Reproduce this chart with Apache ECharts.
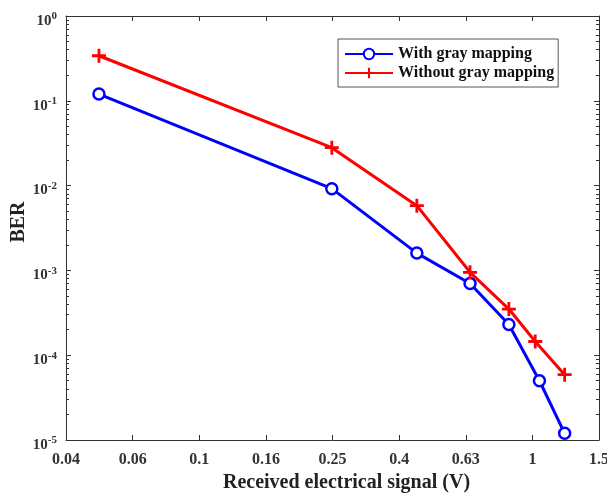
<!DOCTYPE html>
<html>
<head>
<meta charset="utf-8">
<script src="https://cdn.jsdelivr.net/npm/echarts@6/dist/echarts.min.js"></script>
<style>
  html, body { margin: 0; padding: 0; background: #fff; }
  #chart { width: 607px; height: 494px; }
</style>
</head>
<body>
<div id="chart"></div>
<script>
// received signal (V)
const signalWith = [0.05, 0.25, 0.45, 0.65, 0.85, 1.05, 1.25];
const berWith = [0.12, 0.0092, 0.0016, 7.0e-4, 2.3e-4, 5.0e-5, 1.2e-5];

const signalWithout = [0.05, 0.25, 0.45, 0.65, 0.85, 1.02, 1.25];
const berWithout = [0.34, 0.028, 0.0058, 9.5e-4, 3.5e-4, 1.45e-4, 5.9e-5];

const xTickLabels = ['0.04', '0.06', '0.1', '0.16', '0.25', '0.4', '0.63', '1', '1.5'];

const font = 'Liberation Serif';
const axisColor = '#333';

function toPairs(xs, ys) {
    return xs.map(function(x, i) {
        return [Math.log10(x), ys[i]];
    });
}

const chart = echarts.init(document.getElementById('chart'));

const plus = 'path://M4,0 H6 V4 H10 V6 H6 V10 H4 V6 H0 V4 H4 Z';

const xBase = {
    type: 'value',
    min: -1.4,
    max: 0.2,
    interval: 0.2,
    axisLine: { show: true, onZero: false, lineStyle: { color: axisColor } },
    axisTick: { show: true, inside: true, length: 5, lineStyle: { color: axisColor } },
    splitLine: { show: false }
};

const yBase = {
    type: 'log',
    logBase: 10,
    min: 1e-5,
    max: 1,
    axisLine: { show: true, onZero: false, lineStyle: { color: axisColor } },
    axisTick: { show: true, inside: true, length: 5, lineStyle: { color: axisColor } },
    minorTick: { show: true, splitNumber: 9, length: 3, lineStyle: { color: axisColor } },
    splitLine: { show: false }
};

chart.setOption({
    animation: false,
    grid: { left: 66, top: 16, right: 8, bottom: 54, containLabel: false, outerBoundsMode: 'none' },
    legend: {
        left: 338,
        top: 39,
        orient: 'vertical',
        itemWidth: 48,
        itemHeight: 13,
        itemGap: 3,
        padding: [7, 4, 6, 6],
        borderColor: '#555',
        borderWidth: 1,
        backgroundColor: '#fff',
        textStyle: { fontFamily: font, fontWeight: 'bold', fontSize: 16, color: '#111' },
        data: ['With gray mapping', 'Without gray mapping']
    },
    xAxis: [
        Object.assign({}, xBase, {
            position: 'bottom',
            name: 'Received electrical signal (V)',
            nameLocation: 'middle',
            nameGap: 33,
            nameTextStyle: { fontFamily: font, fontWeight: 'bold', fontSize: 20, color: '#222', padding: [0, 0, 0, 28] },
            axisLabel: {
                margin: 12,
                fontFamily: font, fontWeight: 'bold', fontSize: 16, color: '#333',
                formatter: function(v) {
                    return xTickLabels[Math.round((v + 1.4) / 0.2)];
                }
            }
        }),
        Object.assign({}, xBase, { position: 'top', axisLabel: { show: false } })
    ],
    yAxis: [
        Object.assign({}, yBase, {
            position: 'left',
            name: 'BER',
            nameLocation: 'middle',
            nameGap: 37,
            nameMoveOverlap: false,
            nameTextStyle: { fontFamily: font, fontWeight: 'bold', fontSize: 20, color: '#222', padding: [0, 0, 0, 12] },
            axisLabel: {
                margin: 9,
                padding: [10, 0, 0, 0],
                formatter: function(v) {
                    const e = Math.round(Math.log10(v));
                    return '{b|10}{s|' + e + '}';
                },
                rich: {
                    b: { fontFamily: font, fontWeight: 'bold', fontSize: 15, color: '#333' },
                    s: { fontFamily: font, fontWeight: 'bold', fontSize: 11, color: '#333', padding: [0, 0, 9, 0] }
                }
            }
        }),
        Object.assign({}, yBase, { position: 'right', axisLabel: { show: false } })
    ],
    series: [
        {
            name: 'With gray mapping',
            type: 'line',
            data: toPairs(signalWith, berWith),
            symbol: 'circle',
            symbolSize: 11,
            showAllSymbol: true,
            lineStyle: { color: '#0000ff', width: 3 },
            itemStyle: { color: '#fff', borderColor: '#0000ff', borderWidth: 2.5 },
            z: 3
        },
        {
            name: 'Without gray mapping',
            type: 'line',
            data: toPairs(signalWithout, berWithout),
            symbol: plus,
            symbolSize: 14,
            lineStyle: { color: '#ff0000', width: 3 },
            itemStyle: { color: '#ff0000', borderWidth: 0 },
            z: 4
        }
    ]
});
</script>
</body>
</html>
